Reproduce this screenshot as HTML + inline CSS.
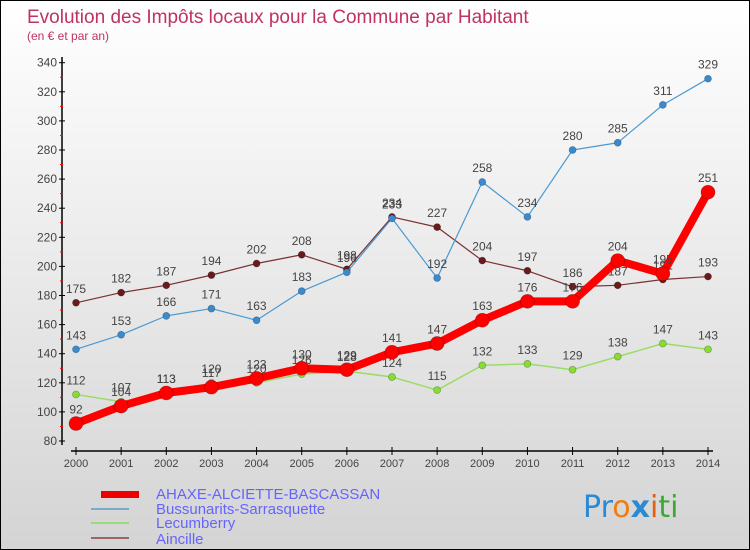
<!DOCTYPE html>
<html><head><meta charset="utf-8"><style>
body{margin:0}
#c{width:748px;height:548px;border:1px solid #000;background:linear-gradient(#fff,#d4d4d4);position:relative;overflow:hidden;font-family:"Liberation Sans",sans-serif}
</style></head><body>
<div id="c">
<svg id="s" width="748" height="548" xmlns="http://www.w3.org/2000/svg">
<text x="26" y="22" font-size="19" fill="#c0335f">Evolution des Impôts locaux pour la Commune par Habitant</text>
<text x="26" y="39" font-size="12" fill="#c0335f">(en € et par an)</text>
<g id="axes"></g><g id="series"></g>
<g>
<rect x="100" y="490" width="38" height="7" fill="#e00"/>
<text x="155" y="498" font-size="15" fill="#6464ff">AHAXE-ALCIETTE-BASCASSAN</text>
<rect x="90" y="507" width="38" height="2" fill="#7aaacc"/>
<text x="155" y="513" font-size="15" fill="#6464ff">Bussunarits-Sarrasquette</text>
<rect x="90" y="521" width="38" height="2" fill="#99dd77"/>
<text x="155" y="527" font-size="15" fill="#6464ff">Lecumberry</text>
<rect x="90" y="536" width="38" height="2" fill="#996666"/>
<text x="155" y="543" font-size="15" fill="#6464ff">Aincille</text>
</g>
<g font-size="30" font-family="'DejaVu Sans',sans-serif">
<text x="582" y="516"><tspan fill="#2a8ad4">Pr</tspan><tspan fill="#f07d10">o</tspan><tspan fill="#2a8ad4" font-weight="bold">x</tspan><tspan fill="#e06010">i</tspan><tspan fill="#3aaa30">ti</tspan></text>
</g>
</svg></div>
<script>
const years=[2000,2001,2002,2003,2004,2005,2006,2007,2008,2009,2010,2011,2012,2013,2014];
const yTicks=[80,100,120,140,160,180,200,220,240,260,280,300,320,340];
const ahaxe=[92,104,113,117,123,130,129,141,147,163,176,176,204,195,251];
const bussunarits=[143,153,166,171,163,183,196,233,192,258,234,280,285,311,329];
const lecumberry=[112,107,113,120,120,126,128,124,115,132,133,129,138,147,143];
const aincille=[175,182,187,194,202,208,198,234,227,204,197,186,187,191,193];
const NS="http://www.w3.org/2000/svg";
function X(i){return 75+i*(632/14);}
function Y(v){return 440-(v-80)*29.1/20;}
function mk(tag,attrs,parent){const e=document.createElementNS(NS,tag);for(const k in attrs)e.setAttribute(k,attrs[k]);parent.appendChild(e);return e;}
const ax=document.getElementById('axes');
let l=mk('line',{x1:61,y1:56,x2:61,y2:444,stroke:'#000','stroke-width':1.5},ax);


yTicks.forEach(v=>{
  const t=mk('line',{x1:58,x2:64,y1:Y(v),y2:Y(v),stroke:'#000'},ax);
  
  
  if(v<340){const m=mk('line',{x1:59,x2:62,y1:Y(v+10),y2:Y(v+10),stroke:'#f00'},ax);
  
  }
  const tx=mk('text',{x:56,y:Y(v)+4,'text-anchor':'end','font-size':12,fill:'#444'},ax);
  tx.textContent=v;
  
  
});
l=mk('line',{x1:70,y1:450,x2:712,y2:450,stroke:'#000','stroke-width':1.5},ax);


years.forEach((y,i)=>{
  const t=mk('line',{x1:X(i),x2:X(i),y1:446,y2:454,stroke:'#000'},ax);
  
  
  const tx=mk('text',{x:X(i),y:466,'text-anchor':'middle','font-size':11,fill:'#444'},ax);
  tx.textContent=y;
  
  
});
const sg=document.getElementById('series');
function draw(name,vals,color,dot,w,r){
  const g=mk('g',{},sg);
  
  
  const p=mk('polyline',{points:vals.map((v,i)=>X(i)+','+Y(v)).join(' '),fill:'none',stroke:color,'stroke-width':w,'stroke-linejoin':'round'},g);
  
  
  vals.forEach((v,i)=>{
    const c=mk('circle',{cx:X(i),cy:Y(v),r:r,fill:dot,stroke:'rgba(0,0,0,0.3)','stroke-width':0.7},g);
    
    
    const t=mk('text',{x:X(i),y:Y(v)-10,'text-anchor':'middle','font-size':12,fill:'#444'},g);
    t.textContent=v;
    
    
  });
}
draw('aincille',aincille,'#7a3030','#6a1a1a',1.2,3.5);
draw('bussunarits',bussunarits,'#4a9ad4','#3a8ad0',1.2,3.5);
draw('lecumberry',lecumberry,'#99dd66','#88dd33',1.5,3.5);
draw('ahaxe',ahaxe,'#f00','#f00',8,7);
</script>
</body></html>
